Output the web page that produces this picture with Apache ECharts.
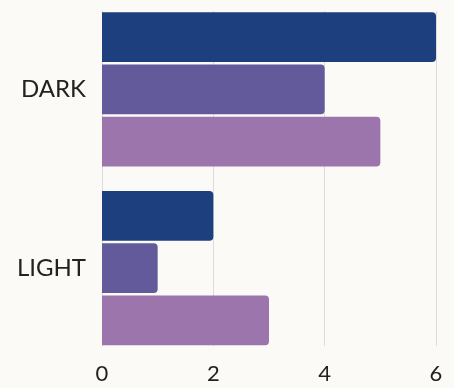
<!DOCTYPE html>
<html>
<head>
<meta charset="utf-8">
<style>
  html, body { margin: 0; padding: 0; background: #fbfaf6; }
  #chart { width: 454px; height: 388px; }
</style>
<script src="https://cdn.jsdelivr.net/npm/echarts@6/dist/echarts.min.js"></script>
</head>
<body>
<div id="chart"></div>
<script>
// Categories and the three series values
const categories = ['DARK', 'LIGHT'];
const seriesA = [6, 2];
const seriesB = [4, 1];
const seriesC = [5, 3];
const tickValues = [0, 2, 4, 6];

const colors = ['#1e3f7e', '#635a9c', '#9b75ac'];
const font = 'Lato, "Noto Sans", sans-serif';

const chart = echarts.init(document.getElementById('chart'), null, { renderer: 'canvas' });

function barSeries(data, color) {
  return {
    type: 'bar',
    xAxisIndex: 0,
    yAxisIndex: 0,
    data: data,
    barWidth: '27.8%',
    barGap: '5%',
    itemStyle: { color: color, borderRadius: [0, 4, 4, 0] },
    emphasis: { disabled: true }
  };
}

chart.setOption({
  backgroundColor: '#fbfaf6',
  animation: false,
  grid: [
    // bars
    { left: 102, right: 18, top: -2.5, bottom: 30.5 },
    // gridlines and value labels
    { left: 102, right: 18, top: 11, bottom: 42 }
  ],
  xAxis: [
    { gridIndex: 0, type: 'value', min: 0, max: 6, interval: 2, show: false },
    {
      gridIndex: 1, type: 'value', min: 0, max: 6, interval: 2,
      axisLine: { show: false },
      axisTick: { show: false },
      splitLine: { show: true, lineStyle: { color: '#dcdcdc', width: 1 } },
      axisLabel: {
        margin: 17,
        color: '#222222',
        fontFamily: font,
        fontSize: 22,
        customValues: tickValues
      }
    }
  ],
  yAxis: [
    {
      gridIndex: 0, type: 'category', data: categories, inverse: true,
      axisLine: { show: false },
      axisTick: { show: false },
      axisLabel: { margin: 16, color: '#222222', fontFamily: font, fontSize: 24 }
    },
    {
      gridIndex: 1, type: 'value', min: 0, max: 1, show: true,
      axisLine: { show: true, lineStyle: { color: '#dcdcdc', width: 1 } },
      axisTick: { show: false },
      axisLabel: { show: false },
      splitLine: { show: false }
    }
  ],
  series: [
    barSeries(seriesA, colors[0]),
    barSeries(seriesB, colors[1]),
    barSeries(seriesC, colors[2])
  ]
});
</script>
</body>
</html>
